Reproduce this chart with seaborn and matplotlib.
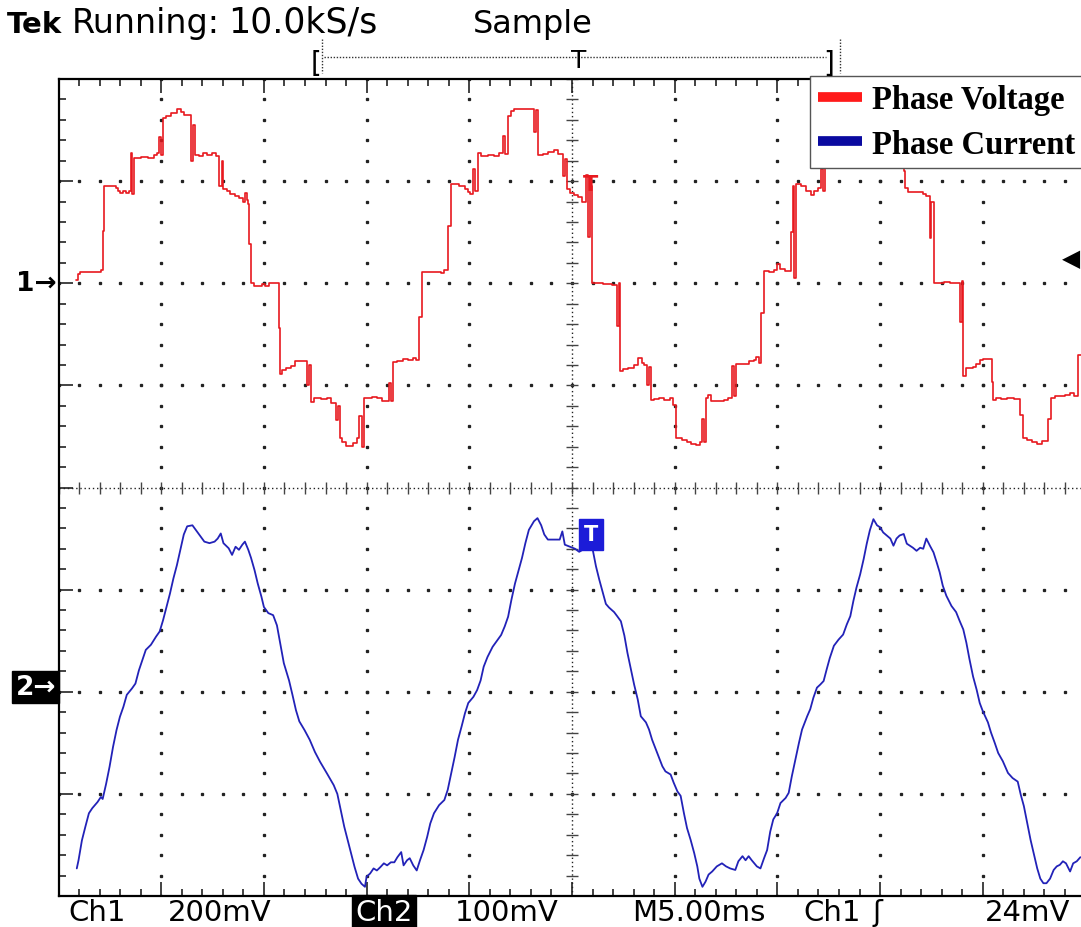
import numpy as np
import pandas as pd
import seaborn as sns
import matplotlib
matplotlib.use('Agg')
from matplotlib import pyplot as plt
from matplotlib.lines import Line2D

# scope screen is 10 x 8 divisions, everything below is read in divisions
CH1_POS = 2      # ground marker "1->"
CH2_POS = -2     # ground marker "2->"

# Ch1 phase voltage (staircase): (time_div, level_div), level holds until next time
ch1_steps = [
    (0.17, 0.03), (0.19, 0.09), (0.21, 0.115), (0.41, 0.13), (0.43, 0.51), (0.447, 0.95),
    (0.56, 0.93), (0.58, 0.90), (0.60, 0.885), (0.63, 0.90), (0.66, 0.88), (0.69, 0.90),
    (0.706, 1.28), (0.72, 0.87), (0.736, 1.23), (0.80, 1.24), (0.87, 1.23), (0.93, 1.26),
    (0.955, 1.28), (0.975, 1.43), (0.995, 1.26), (1.015, 1.62), (1.05, 1.64), (1.10, 1.67),
    (1.15, 1.705), (1.19, 1.68), (1.22, 1.65), (1.287, 1.20), (1.31, 1.55), (1.33, 1.26),
    (1.37, 1.25), (1.41, 1.28), (1.45, 1.26), (1.49, 1.28), (1.53, 1.25), (1.566, 0.95),
    (1.59, 1.20), (1.606, 0.92), (1.64, 0.90), (1.67, 0.87), (1.72, 0.85), (1.76, 0.83),
    (1.80, 0.80), (1.82, 0.88), (1.84, 0.82), (1.85, 0.78), (1.858, 0.38), (1.875, 0.0),
    (1.90, -0.03), (1.98, -0.01), (2.01, -0.03), (2.05, 0.0), (2.144, -0.44), (2.16, -0.885),
    (2.18, -0.85), (2.22, -0.83), (2.26, -0.81), (2.30, -0.76), (2.42, -1.0), (2.44, -0.80),
    (2.458, -1.16), (2.49, -1.12), (2.56, -1.13), (2.61, -1.12), (2.65, -1.17), (2.70, -1.34),
    (2.72, -1.20), (2.738, -1.52), (2.76, -1.55), (2.80, -1.59), (2.87, -1.56), (2.91, -1.52),
    (2.93, -1.30), (2.955, -1.60), (2.978, -1.12), (3.05, -1.11), (3.10, -1.12), (3.15, -1.15),
    (3.22, -0.98), (3.238, -1.15), (3.258, -0.77), (3.30, -0.76), (3.35, -0.74), (3.40, -0.75),
    (3.45, -0.73), (3.48, -0.75), (3.515, -0.33), (3.538, 0.115), (3.72, 0.10), (3.75, 0.13),
    (3.79, 0.56), (3.824, 0.967), (3.90, 0.95), (3.96, 0.92), (3.99, 0.89), (4.01, 0.87),
    (4.04, 1.12), (4.06, 0.90), (4.08, 1.28), (4.11, 1.25), (4.18, 1.26), (4.24, 1.25),
    (4.29, 1.28), (4.33, 1.44), (4.35, 1.27), (4.372, 1.64), (4.41, 1.69), (4.44, 1.71),
    (4.63, 1.48), (4.65, 1.70), (4.672, 1.26), (4.72, 1.27), (4.77, 1.29), (4.82, 1.30),
    (4.86, 1.27), (4.916, 1.05), (4.935, 1.22), (4.955, 0.92), (4.98, 0.88), (5.02, 0.86),
    (5.06, 0.84), (5.10, 0.80), (5.14, 1.06), (5.16, 0.45), (5.178, 0.95), (5.195, 0.0),
    (5.30, -0.01), (5.39, -0.02), (5.44, -0.42), (5.455, 0.0), (5.47, -0.86), (5.50, -0.84),
    (5.55, -0.83), (5.60, -0.80), (5.64, -0.73), (5.68, -0.78), (5.70, -0.80), (5.735, -1.0),
    (5.75, -0.82), (5.77, -1.14), (5.80, -1.13), (5.85, -1.12), (5.90, -1.14), (5.95, -1.12),
    (5.98, -1.19), (6.01, -1.52), (6.07, -1.53), (6.12, -1.55), (6.16, -1.57), (6.21, -1.58),
    (6.25, -1.55), (6.27, -1.33), (6.285, -1.55), (6.303, -1.12), (6.32, -1.09), (6.35, -1.15),
    (6.42, -1.15), (6.48, -1.14), (6.52, -1.12), (6.56, -0.81), (6.575, -1.10), (6.593, -0.79),
    (6.65, -0.79), (6.72, -0.76), (6.77, -0.75), (6.79, -0.72), (6.82, -0.78), (6.84, -0.29),
    (6.87, 0.12), (6.92, 0.11), (6.97, 0.13), (7.00, 0.19), (7.03, 0.14), (7.07, 0.12),
    (7.13, 0.50), (7.15, 0.95), (7.165, 0.05), (7.183, 0.97), (7.23, 0.95), (7.28, 0.90),
    (7.33, 0.86), (7.36, 0.90), (7.40, 0.93), (7.425, 1.12), (7.445, 0.90), (7.46, 1.28),
    (7.50, 1.25), (7.57, 1.26), (7.63, 1.28), (7.68, 1.44), (7.70, 1.27), (7.72, 1.64),
    (7.76, 1.69), (7.79, 1.71), (7.98, 1.48), (8.00, 1.70), (8.02, 1.26), (8.08, 1.27),
    (8.14, 1.29), (8.20, 1.22), (8.23, 1.10), (8.245, 0.93), (8.27, 0.895), (8.35, 0.89),
    (8.42, 0.87), (8.45, 0.85), (8.485, 0.44), (8.50, 0.80), (8.52, 0.0), (8.62, 0.01),
    (8.68, 0.0), (8.777, -0.38), (8.795, 0.02), (8.812, -0.91), (8.84, -0.83), (8.90, -0.82),
    (8.93, -0.79), (8.97, -0.75), (9.0, -0.74), (9.085, -0.97), (9.10, -1.14), (9.13, -1.12),
    (9.18, -1.13), (9.24, -1.12), (9.30, -1.13), (9.36, -1.29), (9.39, -1.52), (9.43, -1.53),
    (9.48, -1.55), (9.53, -1.57), (9.58, -1.54), (9.634, -1.33), (9.667, -1.12), (9.70, -1.10),
    (9.75, -1.10), (9.80, -1.09), (9.85, -1.07), (9.89, -1.10), (9.93, -0.70), (9.96, -0.70),
]

# Ch2 phase current: (time_div, level_div)
ch2_points = [
    (0.178, -1.73), (0.195, -1.65), (0.228, -1.455), (0.262, -1.32), (0.296, -1.19), (0.329, -1.14),
    (0.38, -1.08), (0.413, -1.03), (0.43, -1.05), (0.464, -0.90), (0.497, -0.735), (0.531, -0.54),
    (0.565, -0.375), (0.598, -0.245), (0.632, -0.147), (0.665, -0.03), (0.716, 0.033), (0.749, 0.08),
    (0.783, 0.21), (0.817, 0.31), (0.85, 0.41), (0.90, 0.46), (0.95, 0.54), (0.985, 0.59),
    (1.018, 0.70), (1.052, 0.83), (1.085, 0.96), (1.119, 1.11), (1.153, 1.24), (1.186, 1.39),
    (1.22, 1.54), (1.253, 1.62), (1.304, 1.63), (1.337, 1.585), (1.37, 1.54), (1.42, 1.47),
    (1.47, 1.455), (1.52, 1.47), (1.55, 1.50), (1.58, 1.55), (1.606, 1.455), (1.657, 1.405),
    (1.69, 1.34), (1.724, 1.42), (1.757, 1.39), (1.79, 1.44), (1.815, 1.47), (1.848, 1.39),
    (1.875, 1.31), (1.909, 1.19), (1.94, 1.06), (1.976, 0.93), (2.0, 0.83), (2.043, 0.77),
    (2.09, 0.75), (2.127, 0.65), (2.16, 0.47), (2.194, 0.28), (2.245, 0.11), (2.278, -0.03),
    (2.312, -0.18), (2.345, -0.29), (2.396, -0.376), (2.446, -0.47), (2.497, -0.59), (2.547, -0.686),
    (2.614, -0.80), (2.68, -0.915), (2.715, -1.0), (2.749, -1.16), (2.782, -1.32), (2.816, -1.454),
    (2.85, -1.585), (2.883, -1.716), (2.917, -1.83), (2.95, -1.88), (2.984, -1.91), (3.0, -1.81),
    (3.034, -1.78), (3.068, -1.73), (3.10, -1.75), (3.135, -1.716), (3.168, -1.68), (3.20, -1.70),
    (3.236, -1.67), (3.27, -1.67), (3.30, -1.62), (3.337, -1.57), (3.36, -1.70), (3.394, -1.65),
    (3.42, -1.63), (3.454, -1.70), (3.488, -1.75), (3.52, -1.65), (3.555, -1.55), (3.59, -1.42),
    (3.62, -1.29), (3.656, -1.19), (3.706, -1.11), (3.757, -1.06), (3.79, -0.96), (3.824, -0.80),
    (3.857, -0.64), (3.89, -0.47), (3.925, -0.34), (3.958, -0.21), (3.99, -0.11), (4.04, -0.05),
    (4.076, 0.016), (4.11, 0.11), (4.14, 0.245), (4.177, 0.34), (4.227, 0.44), (4.277, 0.51),
    (4.31, 0.556), (4.345, 0.64), (4.378, 0.735), (4.41, 0.90), (4.445, 1.06), (4.48, 1.19),
    (4.513, 1.31), (4.546, 1.455), (4.58, 1.585), (4.63, 1.67), (4.664, 1.70), (4.70, 1.63),
    (4.73, 1.54), (4.765, 1.49), (4.815, 1.49), (4.88, 1.49), (4.906, 1.57), (4.93, 1.44),
    (4.98, 1.42), (5.03, 1.40), (5.07, 1.37), (5.12, 1.40), (5.17, 1.45), (5.20, 1.40),
    (5.233, 1.23), (5.265, 1.10), (5.30, 0.97), (5.33, 0.86), (5.36, 0.825), (5.41, 0.78),
    (5.44, 0.74), (5.476, 0.69), (5.51, 0.55), (5.54, 0.38), (5.573, 0.22), (5.605, 0.07),
    (5.64, -0.075), (5.67, -0.24), (5.72, -0.30), (5.75, -0.37), (5.78, -0.47), (5.83, -0.60),
    (5.88, -0.73), (5.91, -0.78), (5.96, -0.81), (5.99, -0.89), (6.026, -0.975), (6.058, -1.02),
    (6.09, -1.19), (6.12, -1.335), (6.155, -1.45), (6.19, -1.58), (6.22, -1.71), (6.24, -1.83),
    (6.27, -1.91), (6.30, -1.86), (6.33, -1.79), (6.365, -1.76), (6.41, -1.71), (6.46, -1.68),
    (6.50, -1.71), (6.54, -1.73), (6.59, -1.745), (6.62, -1.66), (6.66, -1.61), (6.69, -1.65),
    (6.72, -1.61), (6.75, -1.65), (6.80, -1.71), (6.835, -1.73), (6.87, -1.63), (6.90, -1.55),
    (6.93, -1.37), (6.96, -1.25), (6.997, -1.19), (7.03, -1.09), (7.08, -1.04), (7.11, -0.99),
    (7.14, -0.83), (7.175, -0.665), (7.21, -0.50), (7.24, -0.37), (7.29, -0.24), (7.32, -0.17),
    (7.35, -0.06), (7.385, 0.04), (7.417, 0.07), (7.45, 0.105), (7.48, 0.22), (7.51, 0.33),
    (7.55, 0.45), (7.595, 0.51), (7.64, 0.56), (7.676, 0.66), (7.71, 0.74), (7.74, 0.89),
    (7.77, 1.02), (7.806, 1.15), (7.84, 1.30), (7.87, 1.45), (7.90, 1.58), (7.935, 1.69),
    (7.97, 1.63), (8.0, 1.61), (8.03, 1.56), (8.065, 1.53), (8.10, 1.50), (8.13, 1.43),
    (8.16, 1.50), (8.19, 1.53), (8.23, 1.545), (8.26, 1.45), (8.29, 1.43), (8.32, 1.41),
    (8.355, 1.38), (8.39, 1.41), (8.42, 1.40), (8.45, 1.50), (8.485, 1.43), (8.52, 1.365),
    (8.55, 1.27), (8.58, 1.17), (8.61, 1.04), (8.645, 0.94), (8.695, 0.84), (8.74, 0.78),
    (8.776, 0.69), (8.81, 0.61), (8.84, 0.48), (8.87, 0.32), (8.905, 0.15), (8.94, 0.02),
    (8.97, -0.11), (9.0, -0.19), (9.05, -0.30), (9.08, -0.40), (9.116, -0.50), (9.15, -0.60),
    (9.195, -0.68), (9.245, -0.795), (9.29, -0.845), (9.34, -0.88), (9.37, -1.01), (9.40, -1.12),
    (9.43, -1.27), (9.465, -1.45), (9.50, -1.60), (9.53, -1.73), (9.56, -1.83), (9.59, -1.875),
    (9.62, -1.875), (9.655, -1.83), (9.69, -1.745), (9.72, -1.71), (9.75, -1.695), (9.78, -1.66),
    (9.81, -1.68), (9.85, -1.76), (9.88, -1.68), (9.915, -1.66), (9.95, -1.62),
]

legend_labels = ['Phase Voltage', 'Phase Current']
trace_colors = ['#e8191f', '#2222b8']
legend_colors = ['#ff1a1a', '#0a0aa0']

TRIG_T = 5.185   # trigger marker position (div)

sns.set_theme(style='white')
plt.rcParams['font.family'] = ['DejaVu Sans']
plt.rcParams['text.color'] = 'black'

W, H = 1081, 928
fig = plt.figure(figsize=(W / 100, H / 100), dpi=100)
fig.patch.set_facecolor('white')

def fx(x):
    return x / W

def fy(y):
    return 1 - y / H

# graticule is 10 x 8 div, 102.7 x 102.1 px per div, right edge runs off the picture
ax = fig.add_axes([fx(58.5), fy(897), 1027 / W, 817 / H])
ax.set_xlim(0, 10)
ax.set_ylim(-4, 4)
ax.set_facecolor('white')

#=======Graticule============================
dot = dict(ls='none', marker='s', ms=1.4, color='#222222', zorder=1)
for gx in range(1, 10):
    if gx != 5:
        ax.plot(np.full(41, gx), np.linspace(-4, 4, 41), **dot)
for gy in range(-3, 4):
    if gy != 0:
        ax.plot(np.linspace(0, 10, 51), np.full(51, gy), **dot)

ax.axvline(5, color='#222222', lw=1.0, ls=(0, (1, 2)), zorder=1)
ax.axhline(0, color='#222222', lw=1.0, ls=(0, (1, 2)), zorder=1)
ax.plot(np.full(41, 5), np.linspace(-4, 4, 41), ls='none', marker='_', ms=9,
        mew=1.0, color='#444444', zorder=1)
ax.plot(np.linspace(0, 10, 51), np.zeros(51), ls='none', marker='|', ms=9,
        mew=1.0, color='#444444', zorder=1)

ax.set_xticks(np.arange(0, 11, 1))
ax.set_yticks(np.arange(-4, 5, 1))
ax.set_xticks(np.arange(0, 10.01, 0.2), minor=True)
ax.set_yticks(np.arange(-4, 4.01, 0.2), minor=True)
ax.tick_params(which='both', direction='in', top=True, bottom=True, left=True, right=False,
               labelbottom=False, labelleft=False, color='#222222')
ax.tick_params(which='major', length=10, width=1.2)
ax.tick_params(which='minor', length=5, width=1.2)
for side in ['left', 'top', 'bottom']:
    ax.spines[side].set_color('black')
    ax.spines[side].set_linewidth(1.6)
ax.spines['right'].set_visible(False)

#=======Traces===============================
volt = pd.DataFrame(ch1_steps, columns=['t', 'v'])
volt['y'] = volt['v'] + CH1_POS
curr = pd.DataFrame(ch2_points, columns=['t', 'v'])
curr['y'] = curr['v'] + CH2_POS

sns.lineplot(data=volt, x='t', y='y', ax=ax, estimator=None, sort=False,
             drawstyle='steps-post', color=trace_colors[0], lw=1.2, zorder=3)
sns.lineplot(data=curr, x='t', y='y', ax=ax, estimator=None, sort=False,
             color=trace_colors[1], lw=1.3, zorder=3)
ax.set_xlabel('')
ax.set_ylabel('')

# trigger "T" markers on the traces
ax.text(TRIG_T, 3.07, 'T', color=trace_colors[0], fontsize=16, fontweight='bold',
        ha='center', va='top', zorder=4)
ax.text(TRIG_T, -0.46, 'T', color='white', fontsize=15, fontweight='bold',
        ha='center', va='center', zorder=5,
        bbox=dict(boxstyle='square,pad=0.25', fc='#1c1cd8', ec='#1c1cd8'))

#=======Legend===============================
handles = [Line2D([0], [0], color=c, lw=7, solid_capstyle='butt') for c in legend_colors]
leg = ax.legend(handles, legend_labels, loc='upper left',
                bbox_to_anchor=(fx(810), fy(77)), bbox_transform=fig.transFigure,
                prop={'family': 'Liberation Serif', 'weight': 'bold', 'size': 23.5},
                frameon=True, fancybox=False, framealpha=1, edgecolor='#555555',
                borderpad=0.25, labelspacing=0.42, handlelength=1.35, handletextpad=0.3,
                borderaxespad=0)
leg.get_frame().set_linewidth(1.0)
for txt in leg.get_texts():
    txt.set_color('black')
leg.set_zorder(10)

#=======Screen readouts======================
fig.text(fx(7), fy(33), 'Tek', fontweight='bold', fontsize=21, color='black',
         va='baseline', family='DejaVu Sans')
fig.text(fx(72), fy(33), 'Running:', fontsize=24, color='black', va='baseline')
fig.text(fx(228), fy(33), '10.0kS/s', fontsize=25, color='black', va='baseline')
fig.text(fx(473), fy(33), 'Sample', fontsize=23, color='black', va='baseline')

# record view bracket
fig.text(fx(311), fy(72), '[', fontsize=20, va='baseline', color='black')
fig.text(fx(823), fy(72), ']', fontsize=20, va='baseline', color='black')
fig.text(fx(579), fy(68), 'T', fontsize=18, va='baseline', ha='center', color='black')
fig.add_artist(Line2D([fx(324), fx(826)], [fy(58), fy(58)], color='#333333', lw=1.0,
                      ls=(0, (1, 1.2))))
for bx in [322, 840]:
    fig.add_artist(Line2D([fx(bx), fx(bx)], [fy(40), fy(74)], color='#333333', lw=1.0,
                          ls=(0, (1, 1.2))))

# channel ground markers
fig.text(fx(57), fy(284), '1\u2192', fontsize=19, fontweight='bold', ha='right', va='center',
         color='black')
fig.text(fx(56), fy(688), '2\u2192', fontsize=19, fontweight='bold', ha='right', va='center',
         color='white', bbox=dict(boxstyle='square,pad=0.12', fc='black', ec='black'))
# trigger level marker
fig.text(fx(1062), fy(259), '\u25c0', fontsize=17, ha='left', va='center', color='black')

bot = dict(fontsize=21, va='baseline', family='DejaVu Sans')
base = fy(921)
fig.text(fx(68), base, 'Ch1', color='black', **bot)
fig.text(fx(168), base, '200mV', color='black', **bot)
fig.text(fx(355), base, 'Ch2', color='white',
         bbox=dict(boxstyle='square,pad=0.12', fc='black', ec='black'), **bot)
fig.text(fx(455), base, '100mV', color='black', **bot)
fig.text(fx(632), base, 'M5.00ms', color='black', **bot)
fig.text(fx(803), base, 'Ch1', color='black', **bot)
fig.text(fx(872), base, '\u0283', fontsize=21, va='baseline', color='black',
         family='DejaVu Sans')
fig.text(fx(985), base, '24mV', color='black', **bot)

fig.savefig('out.png', dpi=100, facecolor='white')
